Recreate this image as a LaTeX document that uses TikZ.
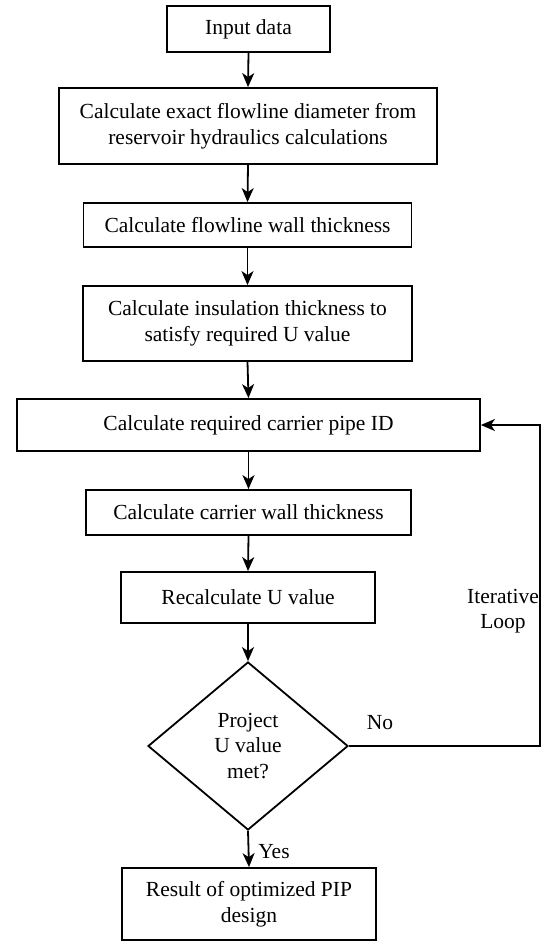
\documentclass[tikz,border=0pt]{standalone}
\usepackage{fontspec}
\setmainfont{Liberation Serif}
\newfontfamily\tnr{Liberation Serif}
\usetikzlibrary{arrows.meta,shapes.geometric}
\begin{document}
\begin{tikzpicture}[x=1pt,y=-1pt,
  every node/.style={font=\tnr\fontsize{21.5}{25.5}\selectfont},
  stepbox/.style={draw,line width=1.8pt,inner sep=0pt,align=center},
  decision/.style={draw,line width=1.8pt,diamond,inner sep=0pt,align=center,minimum width=200pt,minimum height=168pt},
  flow/.style={line width=1.8pt,-{Stealth[length=14pt,width=12pt,inset=4pt]}},
  lbl/.style={inner sep=0pt,align=center}]
\useasboundingbox (0,0) rectangle (548,942);
\node[stepbox,minimum width=163pt,minimum height=46pt] (b1) at (248.5,29) {Input data};
\node[stepbox,minimum width=378pt,minimum height=76pt] (b2) at (248,126) {Calculate exact flowline diameter from\\reservoir hydraulics calculations};
\node[stepbox,minimum width=328pt,minimum height=44pt] (b3) at (247.5,225) {Calculate flowline wall thickness};
\node[stepbox,minimum width=329pt,minimum height=75pt] (b4) at (247.5,323.5) {Calculate insulation thickness to\\satisfy required U value};
\node[stepbox,minimum width=463pt,minimum height=52pt] (b5) at (248.5,425) {Calculate required carrier pipe ID};
\node[stepbox,minimum width=325pt,minimum height=45pt] (b6) at (248.5,512.5) {Calculate carrier wall thickness};
\node[stepbox,minimum width=254pt,minimum height=51pt] (b7) at (248,597.5) {Recalculate U value};
\node[decision] (d) at (248,746) {Project\\U value\\met?};
\node[stepbox,minimum width=254pt,minimum height=72pt] (b9) at (249,904) {Result of optimized PIP\\design};
\coordinate (lc) at (540,746);
\draw[flow] (b1.south) -- (b2.north);
\draw[flow] (b2.south) -- (b3.north);
\draw[flow] (b3.south) -- (b4.north);
\draw[flow] (b4.south) -- (b5.north);
\draw[flow] (b5.south) -- (b6.north);
\draw[flow] (b6.south) -- (b7.north);
\draw[flow] (b7.south) -- (d.north);
\draw[flow] (d.south) -- (b9.north);
\draw[flow] (d.east) -- (lc) |- (b5.east);
\node[lbl] (no) at (380,723) {No};
\node[lbl] (yes) at (274,852) {Yes};
\node[lbl] (loop) at (503,611) {Iterative\\Loop};
\end{tikzpicture}
\end{document}
